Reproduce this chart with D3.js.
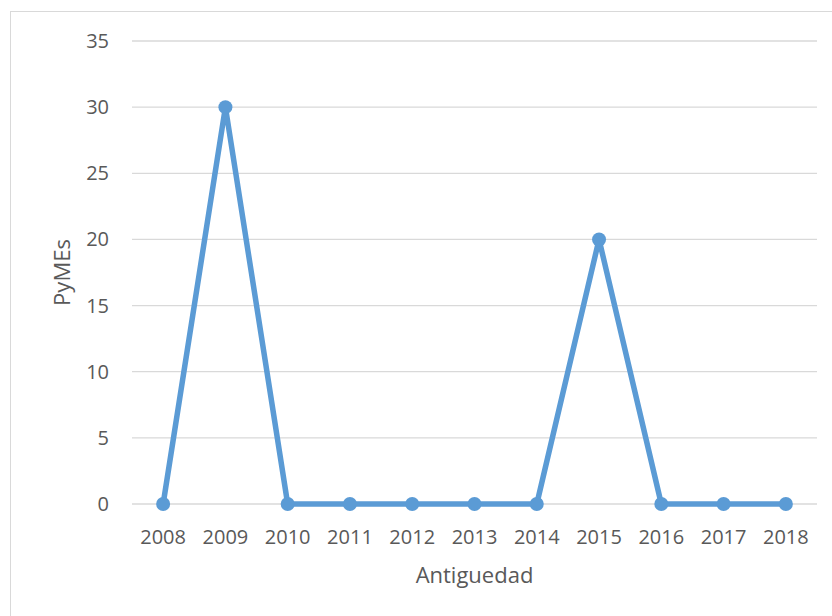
<!DOCTYPE html>
<html>
<head>
<meta charset="utf-8">
<script src="https://cdn.jsdelivr.net/npm/d3@7"></script>
<style>
  body { margin: 0; background: #fff; }
  svg text { font-family: "Open Sans", "Liberation Sans", sans-serif; fill: #595959; }
</style>
</head>
<body>
<svg width="832" height="616"></svg>
<script>
// data
var years = ["2008", "2009", "2010", "2011", "2012", "2013", "2014", "2015", "2016", "2017", "2018"];
var pymes = [0, 30, 0, 0, 0, 0, 0, 20, 0, 0, 0];
var yTicks = [0, 5, 10, 15, 20, 25, 30, 35];

var svg = d3.select("svg");

// outer chart frame
svg.append("rect")
    .attr("x", 10.5).attr("y", 11.5)
    .attr("width", 840).attr("height", 640)
    .attr("fill", "none")
    .attr("stroke", "#d9d9d9");

var plotLeft = 132, plotRight = 817, plotTop = 41, plotBottom = 504;

var x = d3.scaleBand().domain(years).range([plotLeft, plotRight]);
var y = d3.scaleLinear().domain([0, 35]).range([plotBottom, plotTop]);

// gridlines
svg.append("g")
    .selectAll("line")
    .data(yTicks)
    .enter().append("line")
    .attr("x1", plotLeft).attr("x2", plotRight)
    .attr("y1", function(d) { return y(d); })
    .attr("y2", function(d) { return y(d); })
    .attr("stroke", "#d9d9d9")
    .attr("stroke-width", 1.3);

// y tick labels
svg.append("g")
    .selectAll("text")
    .data(yTicks)
    .enter().append("text")
    .attr("x", 109)
    .attr("y", function(d) { return y(d); })
    .attr("dy", "0.35em")
    .attr("text-anchor", "end")
    .style("font-size", "20px")
    .text(function(d) { return d; });

// x tick labels
svg.append("g")
    .selectAll("text")
    .data(years)
    .enter().append("text")
    .attr("x", function(d) { return x(d) + x.bandwidth() / 2; })
    .attr("y", 537)
    .attr("dy", "0.35em")
    .attr("text-anchor", "middle")
    .style("font-size", "20px")
    .text(function(d) { return d; });

// the line
var line = d3.line()
    .x(function(d, i) { return x(years[i]) + x.bandwidth() / 2; })
    .y(function(d) { return y(d); });

svg.append("path")
    .datum(pymes)
    .attr("d", line)
    .attr("fill", "none")
    .attr("stroke", "#5b9bd5")
    .attr("stroke-width", 5.5)
    .attr("stroke-linejoin", "round");

svg.append("g")
    .selectAll("circle")
    .data(pymes)
    .enter().append("circle")
    .attr("cx", function(d, i) { return x(years[i]) + x.bandwidth() / 2; })
    .attr("cy", function(d) { return y(d); })
    .attr("r", 7)
    .attr("fill", "#5b9bd5");

// axis titles
svg.append("text")
    .attr("transform", "translate(62," + ((plotTop + plotBottom) / 2) + ") rotate(-90)")
    .attr("text-anchor", "middle")
    .attr("dy", "0.35em")
    .style("font-size", "22px")
    .text("PyMEs");

svg.append("text")
    .attr("x", (plotLeft + plotRight) / 2)
    .attr("y", 575)
    .attr("dy", "0.35em")
    .attr("text-anchor", "middle")
    .style("font-size", "22px")
    .text("Antiguedad");
</script>
</body>
</html>
